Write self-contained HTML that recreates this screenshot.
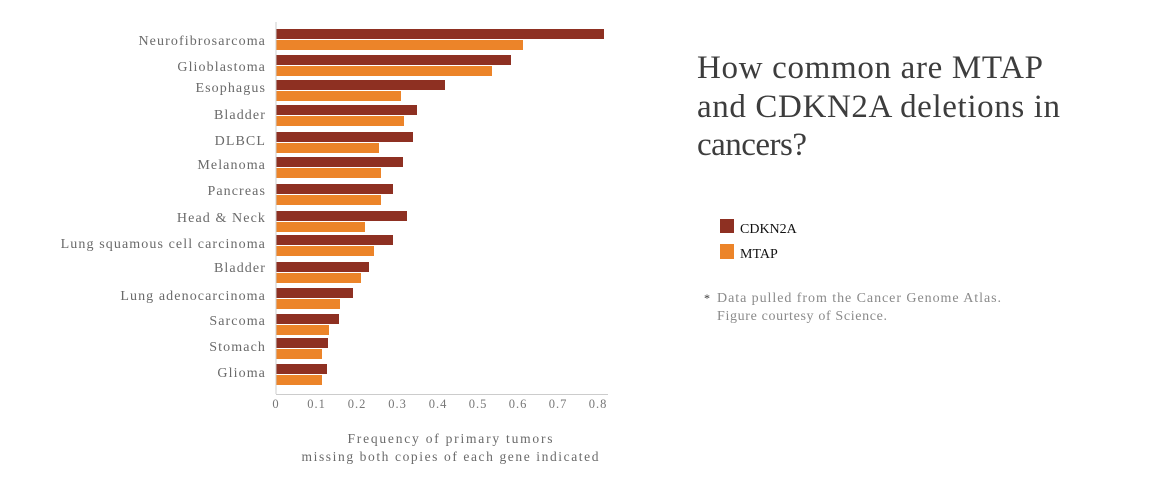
<!DOCTYPE html>
<html><head><meta charset="utf-8"><style>
html,body{margin:0;padding:0;background:#fff;}
svg{display:block;}
text{font-family:"Liberation Serif",serif;}
</style></head><body>
<svg width="1150" height="500" viewBox="0 0 1150 500">
<g font-size="14" fill="#6a6a6a" text-anchor="end" letter-spacing="1.1">
<text x="266" y="45">Neurofibrosarcoma</text>
<text x="266" y="71">Glioblastoma</text>
<text x="266" y="92">Esophagus</text>
<text x="266" y="119">Bladder</text>
<text x="266" y="145">DLBCL</text>
<text x="266" y="169">Melanoma</text>
<text x="266" y="195">Pancreas</text>
<text x="266" y="222">Head &amp; Neck</text>
<text x="266" y="248">Lung squamous cell carcinoma</text>
<text x="266" y="272">Bladder</text>
<text x="266" y="300">Lung adenocarcinoma</text>
<text x="266" y="325">Sarcoma</text>
<text x="266" y="351">Stomach</text>
<text x="266" y="377">Glioma</text>
</g>
<g>
<rect x="276" y="29" width="328" height="10" fill="#8e3022"/><rect x="276" y="40" width="247" height="10" fill="#ec8429"/>
<rect x="276" y="55" width="235" height="10" fill="#8e3022"/><rect x="276" y="66" width="216" height="10" fill="#ec8429"/>
<rect x="276" y="80" width="169" height="10" fill="#8e3022"/><rect x="276" y="91" width="125" height="10" fill="#ec8429"/>
<rect x="276" y="105" width="141" height="10" fill="#8e3022"/><rect x="276" y="116" width="128" height="10" fill="#ec8429"/>
<rect x="276" y="132" width="137" height="10" fill="#8e3022"/><rect x="276" y="143" width="103" height="10" fill="#ec8429"/>
<rect x="276" y="157" width="127" height="10" fill="#8e3022"/><rect x="276" y="168" width="105" height="10" fill="#ec8429"/>
<rect x="276" y="184" width="117" height="10" fill="#8e3022"/><rect x="276" y="195" width="105" height="10" fill="#ec8429"/>
<rect x="276" y="211" width="131" height="10" fill="#8e3022"/><rect x="276" y="222" width="89" height="10" fill="#ec8429"/>
<rect x="276" y="235" width="117" height="10" fill="#8e3022"/><rect x="276" y="246" width="98" height="10" fill="#ec8429"/>
<rect x="276" y="262" width="93" height="10" fill="#8e3022"/><rect x="276" y="273" width="85" height="10" fill="#ec8429"/>
<rect x="276" y="288" width="77" height="10" fill="#8e3022"/><rect x="276" y="299" width="64" height="10" fill="#ec8429"/>
<rect x="276" y="314" width="63" height="10" fill="#8e3022"/><rect x="276" y="325" width="53" height="10" fill="#ec8429"/>
<rect x="276" y="338" width="52" height="10" fill="#8e3022"/><rect x="276" y="349" width="46" height="10" fill="#ec8429"/>
<rect x="276" y="364" width="51" height="10" fill="#8e3022"/><rect x="276" y="375" width="46" height="10" fill="#ec8429"/>
</g>
<line x1="276" y1="22" x2="276" y2="394" stroke="#ccc" stroke-width="1"/>
<line x1="276" y1="394.5" x2="608" y2="394.5" stroke="#ccc" stroke-width="1"/>
<g font-size="12.5" fill="#777" text-anchor="middle" letter-spacing="1">
<text x="276" y="408">0</text><text x="316.5" y="408">0.1</text><text x="357" y="408">0.2</text><text x="397.5" y="408">0.3</text>
<text x="438" y="408">0.4</text><text x="478" y="408">0.5</text><text x="518" y="408">0.6</text><text x="558" y="408">0.7</text><text x="598" y="408">0.8</text>
</g>
<g font-size="13.5" fill="#6a6a6a" text-anchor="middle">
<text x="450" y="443" textLength="205" lengthAdjust="spacing">Frequency of primary tumors</text>
<text x="450" y="461" textLength="297" lengthAdjust="spacing">missing both copies of each gene indicated</text>
</g>
<g font-size="33" fill="#3d3d3d">
<text x="697" y="78" textLength="346" lengthAdjust="spacing">How common are MTAP</text>
<text x="697" y="117" textLength="363" lengthAdjust="spacing">and CDKN2A deletions in</text>
<text x="697" y="155" textLength="110" lengthAdjust="spacing">cancers?</text>
</g>
<rect x="720" y="219" width="14" height="14" fill="#8e3022"/>
<rect x="720" y="244" width="14" height="15" fill="#ec8429"/>
<g font-size="14" fill="#111">
<text x="740" y="233">CDKN2A</text>
<text x="740" y="258">MTAP</text>
</g>
<g font-size="14" fill="#8a8a8a">
<text x="704" y="302" fill="#333" font-size="12">*</text>
<text x="717" y="302" textLength="284" lengthAdjust="spacing">Data pulled from the Cancer Genome Atlas.</text>
<text x="717" y="320" textLength="170" lengthAdjust="spacing">Figure courtesy of Science.</text>
</g>
</svg>
</body></html>
